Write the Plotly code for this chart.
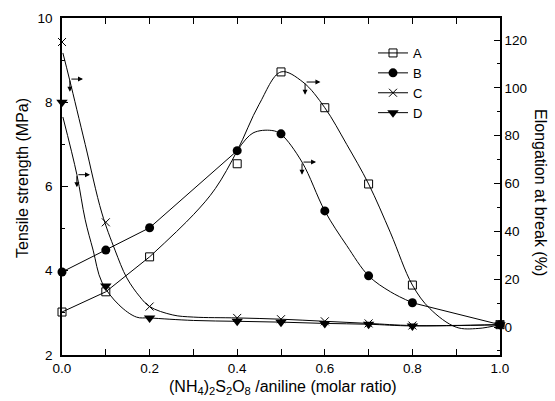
import plotly.graph_objects as go

# ---- data (left axis units, MPa scale) ----
ratio = [0.0, 0.1, 0.2, 0.4, 0.5, 0.6, 0.7, 0.8, 1.0]
A_vals = [3.02, 3.50, 4.33, 6.54, 8.72, 7.87, 6.06, 3.66, 2.72]
B_vals = [3.97, 4.49, 5.02, 6.85, 7.25, 5.42, 3.88, 3.24, 2.72]
C_vals = [9.43, 5.15, 3.15, 2.88, 2.85, 2.80, 2.75, 2.70, 2.72]
D_vals = [8.00, 3.64, 2.88, 2.80, 2.78, 2.75, 2.73, 2.69, 2.72]

# connecting lines / fitted curves
A_seg_x = [0.0, 0.1, 0.2]
A_seg_y = [3.02, 3.50, 4.33]
A_fit_x = [0.2, 0.3, 0.35, 0.4, 0.45, 0.5, 0.55, 0.6, 0.65, 0.7, 0.75, 0.8, 0.84, 0.9, 0.95, 1.0]
A_fit_y = [4.33, 5.33, 5.95, 6.85, 7.95, 8.72, 8.48, 7.87, 7.0, 6.06, 4.9, 3.66, 3.1, 2.66, 2.63, 2.72]

B_seg_x = [0.0, 0.1, 0.2, 0.4]
B_seg_y = [3.97, 4.49, 5.02, 6.85]
B_fit_x = [0.4, 0.436, 0.479, 0.5, 0.548, 0.6, 0.65, 0.7, 0.75, 0.8]
B_fit_y = [6.85, 7.27, 7.33, 7.24, 6.58, 5.42, 4.6, 3.88, 3.5, 3.24]
B_tail_x = [0.8, 1.0]
B_tail_y = [3.24, 2.72]

C_fit_x = [0.002, 0.017, 0.053, 0.091, 0.121, 0.148, 0.178, 0.2, 0.253, 0.3, 0.4, 0.5, 0.6, 0.7, 0.8, 1.0]
C_fit_y = [9.17, 8.55, 7.0, 5.37, 4.49, 3.83, 3.38, 3.15, 2.95, 2.9, 2.88, 2.85, 2.80, 2.75, 2.70, 2.72]

D_fit_x = [0.002, 0.034, 0.053, 0.071, 0.091, 0.13, 0.17, 0.2, 0.3, 0.4, 0.5, 0.6, 0.7, 0.8, 1.0]
D_fit_y = [7.65, 6.28, 5.21, 4.49, 3.73, 3.19, 2.9, 2.88, 2.82, 2.80, 2.78, 2.75, 2.73, 2.69, 2.72]

# arrows: (tail_x, tail_y, head_x) horizontal, plus small down arrow
arrow_tail_x = [0.018, 0.034, 0.555, 0.548]
arrow_tail_y = [8.55, 6.28, 8.48, 6.58]
arrow_head_x = [0.048, 0.064, 0.59, 0.58]
down_head_y = [8.25, 5.98, 8.18, 6.28]

series_names = ["A", "B", "C", "D"]
FONT = "Arial, Liberation Sans, sans-serif"
BLACK = "black"

fig = go.Figure()

line_style = dict(color=BLACK, width=1)
spline_style = dict(color=BLACK, width=1, shape="spline", smoothing=1)

# lines
fig.add_trace(go.Scatter(x=A_seg_x, y=A_seg_y, mode="lines", line=line_style, showlegend=False))
fig.add_trace(go.Scatter(x=A_fit_x, y=A_fit_y, mode="lines", line=spline_style, showlegend=False))
fig.add_trace(go.Scatter(x=B_seg_x, y=B_seg_y, mode="lines", line=line_style, showlegend=False))
fig.add_trace(go.Scatter(x=B_fit_x, y=B_fit_y, mode="lines", line=spline_style, showlegend=False))
fig.add_trace(go.Scatter(x=B_tail_x, y=B_tail_y, mode="lines", line=line_style, showlegend=False))
fig.add_trace(go.Scatter(x=C_fit_x, y=C_fit_y, mode="lines", line=spline_style, showlegend=False))
fig.add_trace(go.Scatter(x=D_fit_x, y=D_fit_y, mode="lines", line=spline_style, showlegend=False))

markers = [
    dict(symbol="square-open", size=8, color=BLACK, line=dict(color=BLACK, width=1)),
    dict(symbol="circle", size=9, color=BLACK, line=dict(color=BLACK, width=0)),
    dict(symbol="x-thin-open", size=8, color=BLACK, line=dict(color=BLACK, width=1)),
    dict(symbol="triangle-down", size=10, color=BLACK, line=dict(color=BLACK, width=0)),
]
vals = [A_vals, B_vals, C_vals, D_vals]

for name, v, m in zip(series_names, vals, markers):
    fig.add_trace(go.Scatter(x=ratio, y=v, mode="markers", marker=m, showlegend=False,
                             cliponaxis=False))

# legend-only entries
for name, m in zip(series_names, markers):
    fig.add_trace(go.Scatter(x=[None], y=[None], mode="lines+markers", name=name,
                             marker=m, line=dict(color=BLACK, width=1)))

# invisible anchor for the right axis
fig.add_trace(go.Scatter(x=[None], y=[None], yaxis="y2", mode="markers", showlegend=False,
                         hoverinfo="skip"))

for tx, ty, hx, dy in zip(arrow_tail_x, arrow_tail_y, arrow_head_x, down_head_y):
    fig.add_annotation(x=hx, y=ty, ax=tx, ay=ty, xref="x", yref="y", axref="x", ayref="y",
                       showarrow=True, arrowhead=2, arrowsize=1, arrowwidth=1, arrowcolor=BLACK, text="")
    fig.add_annotation(x=tx, y=dy, ax=tx, ay=ty, xref="x", yref="y", axref="x", ayref="y",
                       showarrow=True, arrowhead=2, arrowsize=1, arrowwidth=1, arrowcolor=BLACK, text="")

# axis titles as annotations
fig.add_annotation(text="Tensile strength (MPa)", xref="paper", yref="paper",
                   x=(22 - 62) / 438, y=(355 - 178) / 337, showarrow=False, textangle=-90,
                   font=dict(family=FONT, size=16, color=BLACK), xanchor="center", yanchor="middle")
fig.add_annotation(text="Elongation at break (%)", xref="paper", yref="paper",
                   x=(541 - 62) / 438, y=(355 - 192) / 337, showarrow=False, textangle=90,
                   font=dict(family=FONT, size=16, color=BLACK), xanchor="center", yanchor="middle")
fig.add_annotation(text="(NH<sub>4</sub>)<sub>2</sub>S<sub>2</sub>O<sub>8</sub> /aniline (molar ratio)",
                   xref="paper", yref="paper", x=(283 - 62) / 438, y=(355 - 387) / 337,
                   showarrow=False, font=dict(family=FONT, size=16, color=BLACK),
                   xanchor="center", yanchor="middle")

tickfont = dict(family=FONT, size=13.5, color=BLACK)
fig.update_layout(
    width=555, height=401,
    margin=dict(l=62, r=55, t=18, b=46),
    paper_bgcolor="white", plot_bgcolor="white",
    font=dict(family=FONT, color=BLACK),
    xaxis=dict(range=[0, 1.0], dtick=0.2, tick0=0, tickformat=".1f", ticks="inside", ticklen=6,
               tickcolor=BLACK, showline=True, linecolor=BLACK, linewidth=1.5, mirror="allticks",
               showgrid=False, zeroline=False, tickfont=tickfont,
               minor=dict(dtick=0.1, ticks="inside", ticklen=3, tickcolor=BLACK, showgrid=False)),
    yaxis=dict(range=[2, 10], dtick=2, tick0=2, ticks="inside", ticklen=6, tickcolor=BLACK,
               showline=True, linecolor=BLACK, linewidth=1.5, showgrid=False, zeroline=False,
               tickfont=tickfont, ticklabelstandoff=5,
               minor=dict(dtick=1, ticks="inside", ticklen=3, tickcolor=BLACK, showgrid=False)),
    yaxis2=dict(range=[-11.7, 129.2], dtick=20, tick0=0, overlaying="y", side="right", anchor="x",
                ticks="inside", ticklen=6, tickcolor=BLACK, showline=True, linecolor=BLACK,
                linewidth=1.5, showgrid=False, zeroline=False, tickfont=tickfont,
                minor=dict(dtick=10, ticks="inside", ticklen=3, tickcolor=BLACK, showgrid=False)),
    legend=dict(x=(373 - 62) / 438, y=(355 - 38) / 337, xanchor="left", yanchor="top",
                bgcolor="rgba(0,0,0,0)", font=dict(family=FONT, size=13, color=BLACK),
                tracegroupgap=0, itemwidth=30),
    showlegend=True,
)

fig.write_html("out.html")
